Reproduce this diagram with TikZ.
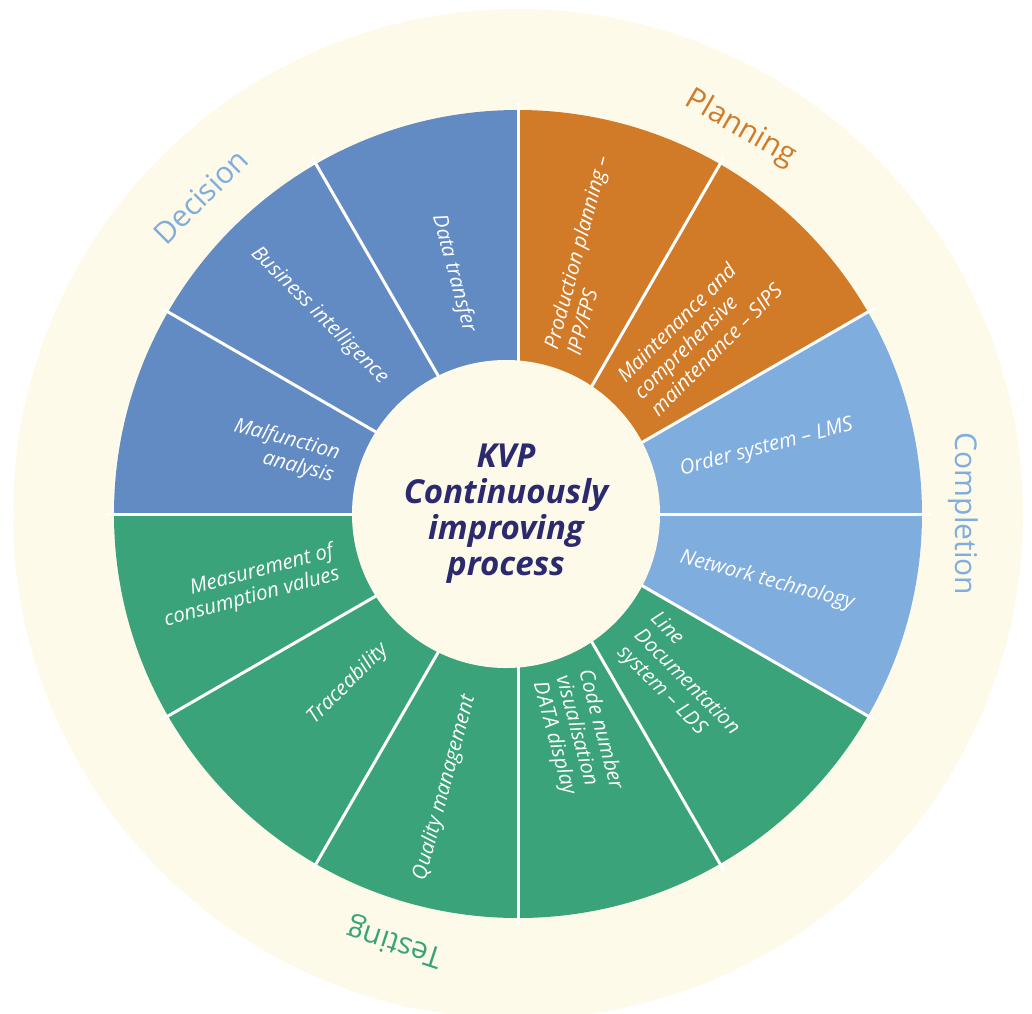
\documentclass[tikz,border=0pt]{standalone}
\usepackage{fontspec}
\setmainfont{Open Sans}
\definecolor{cream}{HTML}{FEFAEA}
\definecolor{plan}{HTML}{D17A28}
\definecolor{compl}{HTML}{7FADDD}
\definecolor{test}{HTML}{3AA37A}
\definecolor{decis}{HTML}{628BC4}
\definecolor{navy}{HTML}{2B2A6E}
\tikzset{
	seg/.style={text=white,inner sep=0pt,font=\itshape\fontsize{20.5}{23.5}\selectfont},
	segr/.style={seg,anchor=west,align=left},
	segl/.style={seg,anchor=east,align=right},
	phase/.style={inner sep=0pt,font=\fontsize{30}{33}\selectfont}
}
\begin{document}
\begin{tikzpicture}[x=1pt,y=1pt]
	\def\rout{404}
	\def\rring{505}
	\def\rr{168}
	\def\rl{188}
	\useasboundingbox (-518,-499) rectangle (514,514);
	\fill[cream] (0,0) circle[radius=\rring];
	% the four phases
	\fill[plan] (0,0) -- (30:\rout) arc[start angle=30,end angle=90,radius=\rout] -- cycle;
	\fill[compl] (0,0) -- (-30:\rout) arc[start angle=-30,end angle=30,radius=\rout] -- cycle;
	\fill[test] (0,0) -- (180:\rout) arc[start angle=180,end angle=330,radius=\rout] -- cycle;
	\fill[decis] (0,0) -- (90:\rout) arc[start angle=90,end angle=180,radius=\rout] -- cycle;
	\foreach \a in {0,30,...,330} \draw[white,line width=3pt] (0,0) -- (\a:412);
	\node[circle,fill=cream,minimum size=308pt,inner sep=0pt,align=center,text=navy,
		font=\bfseries\itshape\fontsize{33}{36}\selectfont] (kvp) at (-12,0)
		{KVP\\Continuously\\improving\\process};
	% right half
	\node[segr,rotate=75] (prod) at (75:\rr) {Production planning --\\IPP/FPS};
	\node[segr,rotate=45] (maint) at (45:\rr) {Maintenance and\\comprehensive\\maintenance -- SIPS};
	\node[segr,rotate=15] (order) at (15:\rr) {Order system -- LMS};
	\node[segr,rotate=-15] (network) at (-15:\rr) {Network technology};
	\node[segr,rotate=-45] (line) at (-45:\rr) {Line\\Documentation\\system -- LDS};
	\node[segr,rotate=-75] (code) at (-75:\rr) {Code number\\visualisation\\DATA display};
	% left half
	\node[segl,rotate=75] (quality) at (-105:\rl) {Quality management};
	\node[segl,rotate=45] (trace) at (-135:\rl) {Traceability};
	\node[segl,rotate=15] (measure) at (-165:\rl) {Measurement of\\consumption values};
	\node[segl,rotate=-15] (malfunction) at (165:\rl) {Malfunction\\analysis};
	\node[segl,rotate=-45] (business) at (135:\rl) {Business intelligence};
	\node[segl,rotate=-75] (data) at (105:\rl) {Data transfer};
	% phase names on the ring
	\node[phase,text=plan,rotate=-30] (planning) at (60:445) {Planning};
	\node[phase,text=compl,rotate=-90] (completion) at (0:445) {Completion};
	\node[phase,text=test,rotate=162] (testing) at (-106:445) {Testing};
	\node[phase,text=compl,rotate=45] (decision) at (135:449) {Decision};
\end{tikzpicture}
\end{document}
